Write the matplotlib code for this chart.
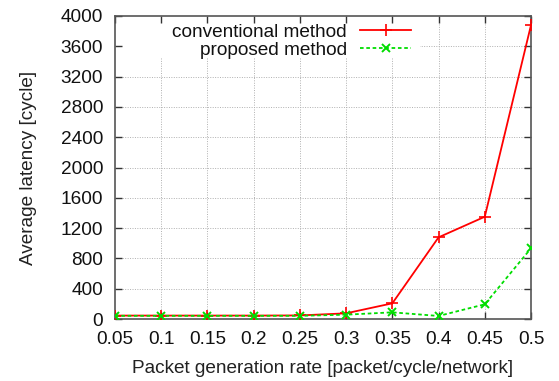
import matplotlib
matplotlib.use("Agg")
import matplotlib.pyplot as plt
from matplotlib.patches import Rectangle

plt.rcParams['font.family'] = ['Liberation Sans', 'DejaVu Sans']

rates = [0.05, 0.1, 0.15, 0.2, 0.25, 0.3, 0.35, 0.4, 0.45, 0.5]
conventional = [45, 45, 45, 45, 47, 75, 207, 1078, 1350, 3880]
proposed = [42, 42, 42, 42, 42, 57, 88, 40, 194, 933]
xticks = [0.05, 0.1, 0.15, 0.2, 0.25, 0.3, 0.35, 0.4, 0.45, 0.5]
xticklabels = ["0.05", "0.1", "0.15", "0.2", "0.25", "0.3", "0.35", "0.4", "0.45", "0.5"]
yticks = [0, 400, 800, 1200, 1600, 2000, 2400, 2800, 3200, 3600, 4000]

FS = 13.7
fig = plt.figure(figsize=(5.59, 3.81), dpi=100)
ax = fig.add_axes([115/559, 1 - 319/381, (531-115)/559, (319-16)/381])

ax.plot(rates, conventional, color='#ff0000', lw=1.3, marker='+', ms=8, mew=1.2,
        label='conventional method', zorder=3)
ax.plot(rates, proposed, color='#00dd00', lw=1.3, ls=(0, (2, 1.5)), marker='x', ms=6, mew=1.4,
        label='proposed method', zorder=3)

ax.set_xlim(0.05, 0.5)
ax.set_ylim(0, 4000)
ax.set_xticks(xticks)
ax.set_xticklabels(xticklabels)
ax.set_yticks(yticks)

# grid drawn below a white legend background, ticks stay on top
gkw = dict(color='#b0b0b0', ls=(0, (1, 1.5)), lw=0.7, zorder=1)
for xv in xticks[1:-1]:
    ax.axvline(xv, **gkw)
for yv in yticks[1:-1]:
    ax.axhline(yv, **gkw)
ax.add_patch(Rectangle((0, (319 - 57) / 303), (420 - 115) / 416, 1 - (319 - 57) / 303,
                       transform=ax.transAxes, facecolor='white', edgecolor='none', zorder=1.5))

ax.tick_params(direction='in', length=5, width=1, top=True, right=True,
               labelsize=FS, colors='#333333', labelcolor='#111111', pad=8.5)
for s in ax.spines.values():
    s.set_color('#555555')
    s.set_linewidth(1.2)

ax.set_xlabel('Packet generation rate [packet/cycle/network]', fontsize=FS, color='#222222', labelpad=9)
ax.set_ylabel('Average latency [cycle]', fontsize=FS, color='#222222', labelpad=17)

leg = ax.legend(loc='upper right', bbox_to_anchor=((420 - 115) / 416, 1 + 1 / 303), frameon=False, fontsize=FS,
                markerfirst=False, handlelength=2.7, borderpad=0.45, labelspacing=0.05,
                handletextpad=0.7, borderaxespad=0.0)
for t in leg.get_texts():
    t.set_ha('right')
    t.set_color('#111111')

fig.savefig('out.png', dpi=100)
